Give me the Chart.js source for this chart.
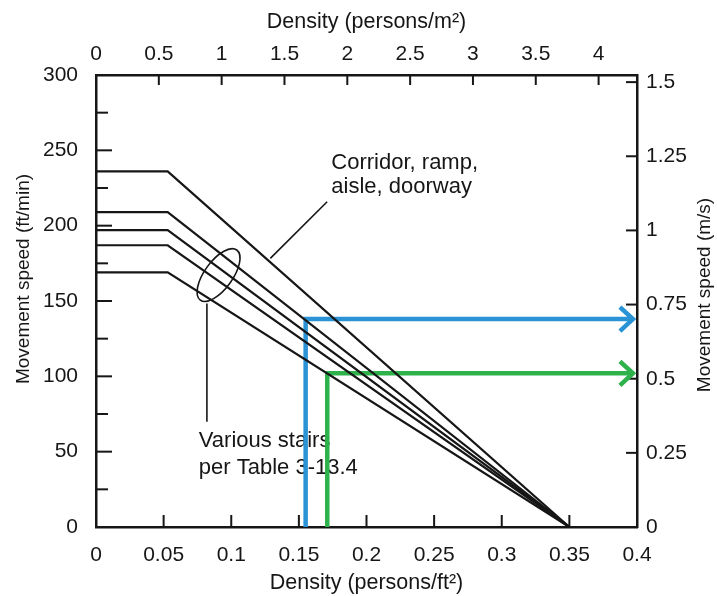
<!DOCTYPE html>
<html>
<head>
<meta charset="utf-8">
<script src="https://cdn.jsdelivr.net/npm/chart.js@4.4.0/dist/chart.umd.min.js"></script>
<style>
  html, body { margin: 0; padding: 0; background: #fff; }
  #wrap { width: 717px; height: 596px; }
</style>
</head>
<body>
<div id="wrap"><canvas id="chart" width="717" height="596"></canvas></div>
<script>
// densities (persons/ft2) where the speed lines start, bend and end
const bendDensity = [0, 0.053, 0.35];
// speeds (ft/min) at those densities
const corridorSpeed = [236, 236, 0];
const stairSpeed1 = [209, 209, 0];
const stairSpeed2 = [197, 197, 0];
const stairSpeed3 = [187, 187, 0];
const stairSpeed4 = [169, 169, 0];

// read-off paths (density ft2, speed ft/min)
const blueDensity = [0.155, 0.155, 0.397];
const blueSpeed = [0, 138, 138];
const greenDensity = [0.171, 0.171, 0.397];
const greenSpeed = [0, 102, 102];

// unit conversions for the secondary axes
const FTMIN_PER_MS = 196.85;
const FT2_PER_M2 = 10.764;

const FONT = "'Liberation Sans', Arial, Helvetica, sans-serif";
const INK = '#161616';
const BLUE = '#2a93d5';
const GREEN = '#2eb24c';

function pts(xs, ys) {
    return xs.map((x, i) => ({ x: x, y: ys[i] }));
}

function fmt(v) {
    return String(parseFloat(v.toFixed(3)));
}

function blackLine(speeds) {
    return {
        data: pts(bendDensity, speeds),
        borderColor: INK,
        borderWidth: 2.2,
        pointRadius: 0,
        tension: 0,
        xAxisID: 'x',
        yAxisID: 'y'
    };
}

function pathLine(xs, ys, color) {
    return {
        data: pts(xs, ys),
        borderColor: color,
        borderWidth: 4.5,
        borderJoinStyle: 'miter',
        pointRadius: 0,
        tension: 0,
        xAxisID: 'x',
        yAxisID: 'y'
    };
}

// inward tick marks on all four sides of the frame
const tickMarks = {
    id: 'tickMarks',
    afterDraw(chart) {
        const ctx = chart.ctx;
        const a = chart.chartArea;
        ctx.save();
        ctx.strokeStyle = INK;
        ctx.lineWidth = 2;
        const sides = [
            { id: 'y', len: v => (v % 50 === 0 ? 16 : 12) },
            { id: 'y2', len: () => 11 },
            { id: 'x', len: () => 12 },
            { id: 'x2', len: () => 10 }
        ];
        sides.forEach(side => {
            const s = chart.scales[side.id];
            s.ticks.forEach(t => {
                const p = s.getPixelForValue(t.value);
                const n = side.len(Math.round(t.value * 1000) / 1000);
                ctx.beginPath();
                if (side.id === 'y') {
                    if (p > a.bottom - 2 || p < a.top + 2) return;
                    ctx.moveTo(a.left, p); ctx.lineTo(a.left + n, p);
                } else if (side.id === 'y2') {
                    if (p > a.bottom - 2 || p < a.top + 2) return;
                    ctx.moveTo(a.right, p); ctx.lineTo(a.right - n, p);
                } else if (side.id === 'x') {
                    if (p < a.left + 2 || p > a.right - 2) return;
                    ctx.moveTo(p, a.bottom); ctx.lineTo(p, a.bottom - n);
                } else {
                    if (p < a.left + 2 || p > a.right - 2) return;
                    ctx.moveTo(p, a.top); ctx.lineTo(p, a.top + n);
                }
                ctx.stroke();
            });
        });

        // arrowheads at the ends of the read-off paths
        [[5, BLUE], [6, GREEN]].forEach(([idx, color]) => {
            const meta = chart.getDatasetMeta(idx);
            const last = meta.data[meta.data.length - 1];
            ctx.strokeStyle = color;
            ctx.lineWidth = 4.5;
            ctx.lineJoin = 'miter';
            ctx.beginPath();
            ctx.moveTo(last.x - 13, last.y - 12);
            ctx.lineTo(last.x, last.y);
            ctx.lineTo(last.x - 13, last.y + 12);
            ctx.stroke();
        });

        // side titles both read bottom to top
        ctx.fillStyle = INK;
        ctx.font = '19px ' + FONT;
        ctx.textAlign = 'center';
        ctx.textBaseline = 'middle';
        ctx.translate(705, 295);
        ctx.rotate(-Math.PI / 2);
        ctx.fillText('Movement speed (m/s)', 0, 0);
        ctx.restore();

        ctx.save();
        ctx.fillStyle = INK;
        ctx.font = '19px ' + FONT;
        ctx.textAlign = 'center';
        ctx.textBaseline = 'middle';
        ctx.translate(24, 279);
        ctx.rotate(-Math.PI / 2);
        ctx.fillText('Movement speed (ft/min)', 0, 0);
        ctx.restore();
    }
};

// callout texts, leader lines and the stairs ellipse, under the data lines
const callouts = {
    id: 'callouts',
    beforeDatasetsDraw(chart) {
        const ctx = chart.ctx;
        const x = chart.scales.x, y = chart.scales.y;
        const X = v => x.getPixelForValue(v);
        const Y = v => y.getPixelForValue(v);
        ctx.save();
        ctx.fillStyle = INK;
        ctx.strokeStyle = INK;
        ctx.font = '22px ' + FONT;
        ctx.textAlign = 'left';
        ctx.textBaseline = 'alphabetic';
        ctx.fillText('Corridor, ramp,', X(0.174), Y(237.5));
        ctx.fillText('aisle, doorway', X(0.174), Y(221.6));
        ctx.fillText('Various stairs', X(0.076), Y(53.3));
        ctx.fillText('per Table 3-13.4', X(0.076), Y(35.5));

        ctx.lineWidth = 1.6;
        ctx.beginPath();
        ctx.moveTo(X(0.1709), Y(215.9));
        ctx.lineTo(X(0.1289), Y(178.3));
        ctx.stroke();

        ctx.beginPath();
        ctx.ellipse(X(0.0906), Y(167.2), 31, 14, 126 * Math.PI / 180, 0, Math.PI * 2);
        ctx.stroke();

        ctx.beginPath();
        ctx.moveTo(X(0.082), Y(148.4));
        ctx.lineTo(X(0.082), Y(69.9));
        ctx.stroke();
        ctx.restore();
    }
};

const tickFont = { family: FONT, size: 21 };
const titleFont = { family: FONT, size: 21.5 };
const border = { display: true, color: INK, width: 2.5 };

new Chart(document.getElementById('chart'), {
    type: 'line',
    data: {
        datasets: [
            blackLine(corridorSpeed),
            blackLine(stairSpeed1),
            blackLine(stairSpeed2),
            blackLine(stairSpeed3),
            blackLine(stairSpeed4),
            pathLine(blueDensity, blueSpeed, BLUE),
            pathLine(greenDensity, greenSpeed, GREEN)
        ]
    },
    options: {
        responsive: false,
        animation: false,
        devicePixelRatio: 1,
        layout: { padding: 0 },
        plugins: { legend: { display: false }, tooltip: { enabled: false } },
        scales: {
            x: {
                type: 'linear', position: 'bottom', min: 0, max: 0.4,
                grid: { display: false }, border: border,
                ticks: { stepSize: 0.05, font: tickFont, color: INK, padding: 8, callback: v => fmt(v) },
                title: { display: true, text: 'Density (persons/ft²)', font: titleFont, color: INK, padding: { top: 0, bottom: 0 } },
                afterFit: s => { s.height = 69; }
            },
            x2: {
                type: 'linear', position: 'top', min: 0, max: 0.4 * FT2_PER_M2,
                grid: { display: false }, border: border,
                ticks: { stepSize: 0.5, includeBounds: false, font: tickFont, color: INK, padding: 0, callback: v => fmt(v) },
                title: { display: true, text: 'Density (persons/m²)', font: titleFont, color: INK, padding: { top: 9, bottom: 0 } },
                afterFit: s => { s.height = 75; }
            },
            y: {
                type: 'linear', position: 'left', min: 0, max: 300,
                grid: { display: false }, border: border,
                ticks: { stepSize: 25, autoSkip: false, font: tickFont, color: INK, padding: 10,
                    callback: v => (v % 50 === 0 ? fmt(v) : '') },
                afterFit: s => { s.width = 96; }
            },
            y2: {
                type: 'linear', position: 'right', min: 0, max: 300 / FTMIN_PER_MS,
                grid: { display: false }, border: border,
                ticks: { stepSize: 0.25, includeBounds: false, font: tickFont, color: INK, padding: 1, callback: v => fmt(v) },
                afterFit: s => { s.width = 80; }
            }
        }
    },
    plugins: [callouts, tickMarks]
});
</script>
</body>
</html>
